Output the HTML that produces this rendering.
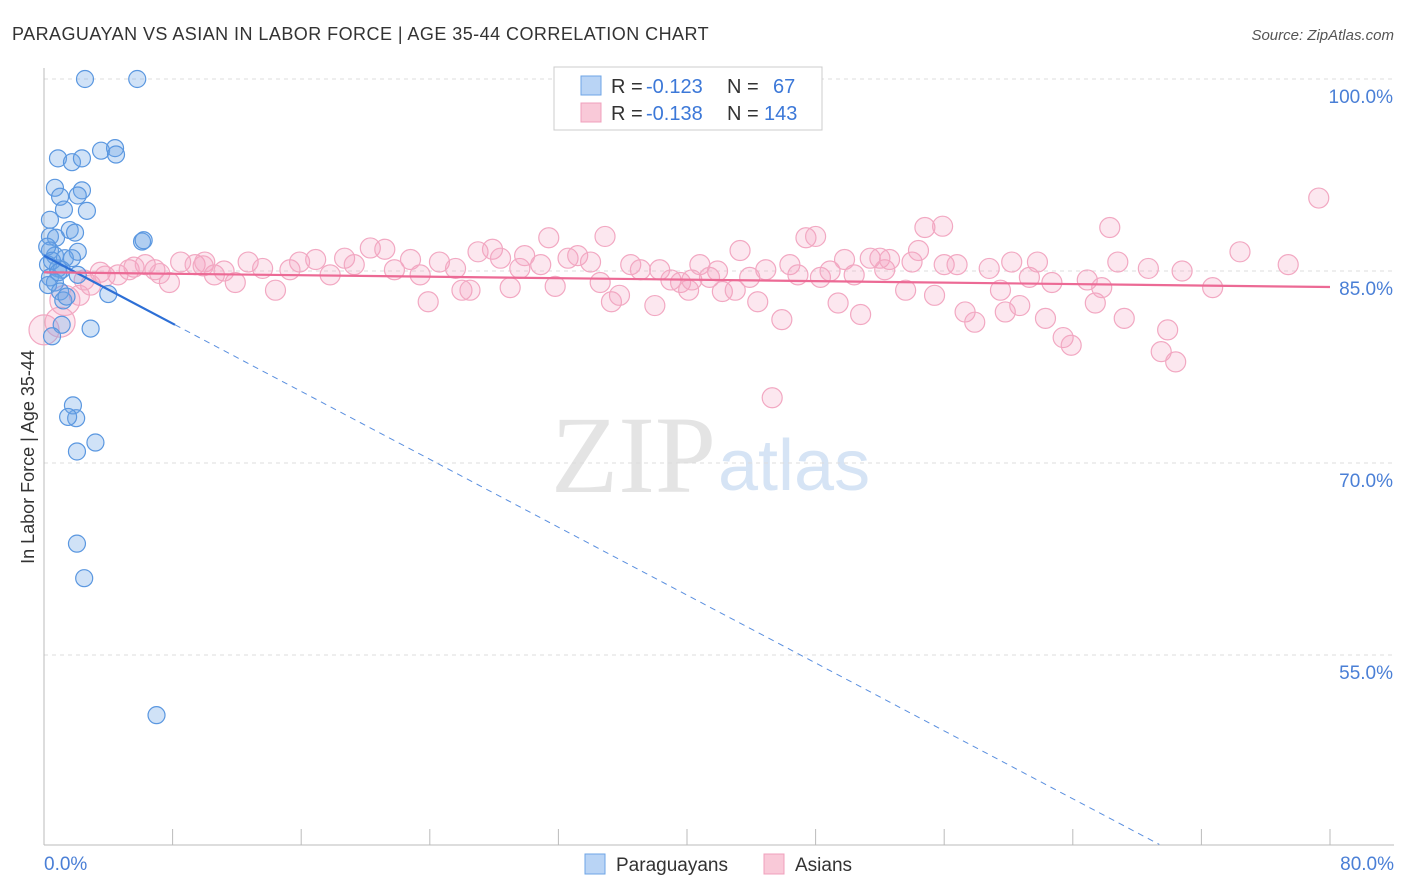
<!DOCTYPE html>
<html><head><meta charset="utf-8"><style>
body{margin:0;background:#fff;font-family:"Liberation Sans",sans-serif}
svg{display:block}
</style></head><body>
<svg id="c" width="1406" height="892" xmlns="http://www.w3.org/2000/svg">
<text x="12" y="40" font-size="18" fill="#333" letter-spacing="0.4" textLength="697">PARAGUAYAN VS ASIAN IN LABOR FORCE | AGE 35-44 CORRELATION CHART</text>
<text x="1394" y="40" font-size="15" fill="#555" font-style="italic" text-anchor="end">Source: ZipAtlas.com</text>
<text x="716" y="492" font-size="110" fill="#e4e4e4" font-family="Liberation Serif,serif" text-anchor="end">ZIP</text>
<text x="718" y="490" font-size="72" fill="#d6e4f5">atlas</text>
<g id="grid"></g><g id="axes"></g><g id="pink"></g><g id="blue"></g><g id="trend"></g>
<text transform="translate(34,457) rotate(-90)" font-size="18" fill="#333" text-anchor="middle">In Labor Force | Age 35-44</text>
<text x="44" y="870" font-size="19" fill="#4a7fd6">0.0%</text>
<text x="1394" y="870" font-size="19" fill="#4a7fd6" text-anchor="end">80.0%</text>
<g>
<rect x="554" y="67" width="268" height="63" fill="#fff" stroke="#ccc"/>
<rect x="581" y="76" width="20" height="19" fill="#b9d4f5" stroke="#6ea4e6"/>
<rect x="581" y="103" width="20" height="19" fill="#f9c9d8" stroke="#f0a0bc"/>
<text x="611" y="93" font-size="20" fill="#333">R =</text>
<text x="646" y="93" font-size="20" fill="#3c78d8">-0.123</text>
<text x="727" y="93" font-size="20" fill="#333">N =</text>
<text x="773" y="93" font-size="20" fill="#3c78d8">67</text>
<text x="611" y="120" font-size="20" fill="#333">R =</text>
<text x="646" y="120" font-size="20" fill="#3c78d8">-0.138</text>
<text x="727" y="120" font-size="20" fill="#333">N =</text>
<text x="764" y="120" font-size="20" fill="#3c78d8">143</text>
</g>
<g>
<rect x="585" y="854" width="20" height="20" fill="#b9d4f5" stroke="#6ea4e6"/>
<text x="616" y="871" font-size="19" fill="#333">Paraguayans</text>
<rect x="764" y="854" width="20" height="20" fill="#f9c9d8" stroke="#f0a0bc"/>
<text x="795" y="871" font-size="19" fill="#333">Asians</text>
</g>
</svg>
<script>
const yTicks=[100,85,70,55];
const yTickLabels=["100.0%","85.0%","70.0%","55.0%"];
const xTicks=[0,8,16,24,32,40,48,56,64,72,80];
const blueX=[2.55,5.8,0.87,1.74,2.36,3.55,4.42,4.48,0.68,1.0,2.36,2.1,1.24,2.67,0.37,1.6,1.93,0.37,0.75,6.1,6.2,0.37,2.1,0.68,1.3,1.74,0.25,0.87,1.1,0.37,0.68,2.1,0.25,1.0,1.2,4.0,2.9,1.1,0.5,1.8,2.0,1.5,3.2,2.05,2.05,2.5,7.0,0.2,0.5,0.9,1.4];
const blueY=[100,100,93.8,93.5,93.8,94.4,94.6,94.1,91.5,90.8,91.3,90.9,89.8,89.7,89.0,88.2,88.0,87.7,87.6,87.3,87.4,86.6,86.5,86.2,86.0,86.0,85.5,85.2,85.1,84.5,84.1,84.7,83.9,83.4,82.7,83.2,80.5,80.8,79.9,74.5,73.5,73.6,71.6,70.9,63.7,61.0,50.3,86.9,85.8,84.9,83.0];
const pinkX=[0,1,1.3,2.2,2.9,3.5,4.6,5.3,6.3,6.9,7.8,8.5,9.4,10,10.6,11.9,12.7,13.6,14.4,15.3,15.9,16.9,17.8,18.7,19.3,20.3,21.2,21.8,22.8,23.4,23.9,24.6,25.6,26,26.5,27,27.9,28.4,29,29.6,29.9,30.9,31.4,31.8,32.6,33.2,34,34.6,34.9,35.3,35.8,36.5,37.1,38,38.3,39,39.6,40.1,40.3,40.8,41.4,41.9,42.2,43,43.3,43.9,44.4,44.9,45.3,45.9,46.4,46.9,47.4,48,48.3,48.9,49.4,49.8,50.4,50.8,51.4,52,52.3,52.6,53.6,54,54.4,54.8,55.4,55.9,56,56.8,57.3,57.9,58.8,59.5,59.8,60.2,60.7,61.3,61.8,62.3,62.7,63.4,63.9,64.9,65.4,65.8,66.3,66.8,67.2,68.7,69.5,69.9,70.4,70.8,72.7,74.4,77.4,79.3,2.5,3.8,5.6,7.2,9.9,11.2];
const pinkY=[80.4,81,82.7,83.1,83.9,84.9,84.7,85.1,85.5,85.1,84.1,85.7,85.5,85.7,84.7,84.1,85.7,85.2,83.5,85.1,85.7,85.9,84.7,86,85.5,86.8,86.7,85.1,85.9,84.7,82.6,85.7,85.2,83.5,83.5,86.5,86.7,86,83.7,85.2,86.2,85.5,87.6,83.8,86,86.2,85.7,84.1,87.7,82.6,83.1,85.5,85.1,82.3,85.1,84.3,84.1,83.5,84.3,85.5,84.5,85,83.4,83.5,86.6,84.5,82.6,85.1,75.1,81.2,85.5,84.7,87.6,87.7,84.5,85,82.5,85.9,84.7,81.6,86,86,85.1,85.9,83.5,85.7,86.6,88.4,83.1,88.5,85.5,85.5,81.8,81,85.2,83.5,81.8,85.7,82.3,84.5,85.7,81.3,84.1,79.8,79.2,84.3,82.5,83.7,88.4,85.7,81.3,85.2,78.7,80.4,77.9,85,83.7,86.5,85.5,90.7,84.3,84.6,85.3,84.8,85.4,85.0];
const blueTrend=[86.2,-0.663];
const pinkTrend=[84.9,-0.0144];
const NS="http://www.w3.org/2000/svg";
const X=v=>44+v*16.075, Y=v=>79+(100-v)*12.8;
function mk(tag,attrs,parent){const e=document.createElementNS(NS,tag);for(const k in attrs)e.setAttribute(k,attrs[k]);parent.appendChild(e);return e;}
const grid=document.getElementById('grid'),axes=document.getElementById('axes');
yTicks.forEach((t,i)=>{
 const l=mk('line',{x1:44,x2:1394,y1:Y(t),y2:Y(t),stroke:'#ddd','stroke-dasharray':'4,4'},grid);
 
 
 const tx=mk('text',{x:1393,y:Y(t)+24,'font-size':19,fill:'#4a7fd6','text-anchor':'end'},grid);
 tx.textContent=yTickLabels[i];
 
 
});
const ya=mk('line',{x1:44,x2:44,y1:68,y2:845,stroke:'#bbb'},axes);


const xa=mk('line',{x1:44,x2:1394,y1:845,y2:845,stroke:'#bbb'},axes);


xTicks.forEach(t=>{const l=mk('line',{x1:X(t),x2:X(t),y1:829,y2:845,stroke:'#bbb'},axes);
 
 });
const pg=document.getElementById('pink');
pinkX.forEach((x,i)=>{const r=x<2?15:10;const c=mk('circle',{cx:X(x),cy:Y(pinkY[i]),r:r,fill:'rgba(244,160,190,0.25)',stroke:'#f2a8c2','stroke-width':1.2},pg);
 
 });
const bg=document.getElementById('blue');
blueX.forEach((x,i)=>{const c=mk('circle',{cx:X(x),cy:Y(blueY[i]),r:8.5,fill:'rgba(110,165,230,0.32)',stroke:'#5a97e0','stroke-width':1.2},bg);
 
 });
const tg=document.getElementById('trend');
const bt=v=>blueTrend[0]+blueTrend[1]*v, pt=v=>pinkTrend[0]+pinkTrend[1]*v;
const b1=mk('line',{x1:X(0),y1:Y(bt(0)),x2:X(8.15),y2:Y(bt(8.15)),stroke:'#2d6fd6','stroke-width':2.2},tg);


const xEnd=(blueTrend[0]-40.2)/-blueTrend[1];
const b2=mk('line',{x1:X(8.15),y1:Y(bt(8.15)),x2:X(xEnd),y2:Y(bt(xEnd)),stroke:'#5a8fdf','stroke-width':1,'stroke-dasharray':'6,5'},tg);


const p1=mk('line',{x1:X(0),y1:Y(pt(0)),x2:X(80),y2:Y(pt(80)),stroke:'#ec6a95','stroke-width':2.2},tg);


</script>
</body></html>
